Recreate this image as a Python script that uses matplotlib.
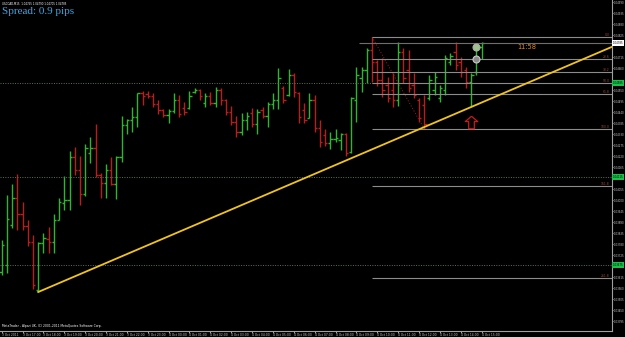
import numpy as np
import matplotlib
matplotlib.use('Agg')
import matplotlib.pyplot as plt
from matplotlib.path import Path

# USDCAD M15 bars
bar_open = [1.03640, 1.03675, 1.03875, 1.04010, 1.03930, 1.03870, 1.03790, 1.03550, 1.03785, 1.03805,
            1.03790, 1.03900, 1.03985, 1.04000, 1.04215, 1.04150, 1.04030, 1.04235, 1.04260, 1.04125,
            1.04085, 1.04150, 1.04080, 1.04215, 1.04375, 1.04400, 1.04415, 1.04535, 1.04530, 1.04520,
            1.04480, 1.04450, 1.04425, 1.04445, 1.04500, 1.04460, 1.04460, 1.04540, 1.04550, 1.04485,
            1.04520, 1.04485, 1.04550, 1.04500, 1.04440, 1.04390, 1.04340, 1.04400, 1.04435, 1.04380,
            1.04450, 1.04420, 1.04480, 1.04500, 1.04560, 1.04525, 1.04625, 1.04535, 1.04450, 1.04410,
            1.04500, 1.04360, 1.04325, 1.04285, 1.04305, 1.04300, 1.04330, 1.04240, 1.04500, 1.04610,
            1.04650, 1.04750, 1.04690, 1.04600, 1.04575, 1.04550, 1.04500, 1.04740, 1.04650, 1.04575,
            1.04500, 1.04475, 1.04510, 1.04550, 1.04510, 1.04550, 1.04690, 1.04740, 1.04690, 1.04650,
            1.04590, 1.04640, 1.04765]
bar_high = [1.03800, 1.04025, 1.04080, 1.04130, 1.03990, 1.03900, 1.03825, 1.03790, 1.03835, 1.03865,
            1.03930, 1.04010, 1.04120, 1.04245, 1.04265, 1.04220, 1.04280, 1.04315, 1.04380, 1.04135,
            1.04180, 1.04215, 1.04220, 1.04420, 1.04405, 1.04465, 1.04535, 1.04545, 1.04545, 1.04535,
            1.04500, 1.04455, 1.04455, 1.04535, 1.04525, 1.04490, 1.04545, 1.04560, 1.04555, 1.04535,
            1.04540, 1.04565, 1.04560, 1.04505, 1.04470, 1.04420, 1.04435, 1.04440, 1.04460, 1.04455,
            1.04465, 1.04490, 1.04535, 1.04660, 1.04570, 1.04655, 1.04635, 1.04540, 1.04485, 1.04535,
            1.04525, 1.04400, 1.04355, 1.04340, 1.04355, 1.04335, 1.04335, 1.04515, 1.04665, 1.04665,
            1.04760, 1.04815, 1.04700, 1.04710, 1.04615, 1.04635, 1.04790, 1.04760, 1.04750, 1.04635,
            1.04510, 1.04525, 1.04625, 1.04640, 1.04575, 1.04725, 1.04735, 1.04790, 1.04715, 1.04665,
            1.04635, 1.04785, 1.04790]
bar_low = [1.03625, 1.03635, 1.03860, 1.03850, 1.03850, 1.03770, 1.03555, 1.03540, 1.03735, 1.03735,
           1.03735, 1.03900, 1.03950, 1.03950, 1.04125, 1.03975, 1.04020, 1.04185, 1.04115, 1.04010,
           1.04010, 1.04075, 1.04005, 1.04190, 1.04330, 1.04340, 1.04365, 1.04475, 1.04510, 1.04465,
           1.04430, 1.04415, 1.04385, 1.04435, 1.04415, 1.04425, 1.04455, 1.04535, 1.04500, 1.04465,
           1.04475, 1.04465, 1.04475, 1.04425, 1.04375, 1.04315, 1.04325, 1.04350, 1.04365, 1.04330,
           1.04410, 1.04365, 1.04455, 1.04455, 1.04485, 1.04520, 1.04515, 1.04385, 1.04385, 1.04410,
           1.04340, 1.04265, 1.04270, 1.04255, 1.04290, 1.04250, 1.04220, 1.04235, 1.04390, 1.04540,
           1.04585, 1.04590, 1.04570, 1.04515, 1.04490, 1.04465, 1.04470, 1.04585, 1.04540, 1.04510,
           1.04390, 1.04355, 1.04500, 1.04525, 1.04490, 1.04525, 1.04675, 1.04650, 1.04615, 1.04560,
           1.04465, 1.04625, 1.04705]
bar_close = [1.03775, 1.03905, 1.04010, 1.03930, 1.03870, 1.03790, 1.03575, 1.03785, 1.03810, 1.03790,
             1.03900, 1.03990, 1.04000, 1.04215, 1.04150, 1.04030, 1.04260, 1.04260, 1.04125, 1.04085,
             1.04150, 1.04080, 1.04215, 1.04375, 1.04400, 1.04415, 1.04535, 1.04520, 1.04520, 1.04480,
             1.04450, 1.04425, 1.04445, 1.04500, 1.04430, 1.04440, 1.04520, 1.04550, 1.04520, 1.04520,
             1.04485, 1.04550, 1.04500, 1.04440, 1.04390, 1.04340, 1.04400, 1.04420, 1.04380, 1.04440,
             1.04420, 1.04480, 1.04500, 1.04610, 1.04500, 1.04625, 1.04540, 1.04415, 1.04400, 1.04500,
             1.04360, 1.04290, 1.04285, 1.04305, 1.04310, 1.04330, 1.04235, 1.04510, 1.04625, 1.04650,
             1.04750, 1.04690, 1.04600, 1.04550, 1.04510, 1.04500, 1.04740, 1.04610, 1.04560, 1.04525,
             1.04410, 1.04380, 1.04600, 1.04615, 1.04560, 1.04710, 1.04720, 1.04675, 1.04640, 1.04590,
             1.04625, 1.04765, 1.04785]

time_labels = ['3 Oct 2011', '3 Oct 17:00', '3 Oct 18:00', '3 Oct 19:00', '3 Oct 20:00',
               '3 Oct 21:00', '3 Oct 22:00', '3 Oct 23:00', '4 Oct 00:00', '4 Oct 01:00',
               '4 Oct 02:00', '4 Oct 03:00', '4 Oct 04:00', '4 Oct 05:00', '4 Oct 06:00',
               '4 Oct 07:00', '4 Oct 08:00', '4 Oct 09:00', '4 Oct 10:00', '4 Oct 11:00',
               '4 Oct 12:00', '4 Oct 13:00', '4 Oct 14:00', '4 Oct 15:00']

hlines = [1.04585, 1.04115, 1.03675]       # green dotted horizontal lines
fib_levels = [0.0, 23.6, 38.2, 50.0, 61.8, 100.0, 161.8, 261.8]
fib_from, fib_to = 71, 81                    # bar of high / bar of low
trend_bars = [7, 90]                         # trendline through these lows
marker_bar = 91
marker_prices = [1.04765, 1.04705]
arrow_bar, arrow_price = 90, 1.04390
timer_text = '11:58'
spread_text = 'Spread: 0.9 pips'

n = len(bar_open)
bid = bar_close[-1]
xmax = 117.0
small = 2.2

fig = plt.figure(figsize=(6.25, 3.37), dpi=100, facecolor='black')
ax = fig.add_axes([0.0, 6 / 337, 612 / 625, 331 / 337], facecolor='black')
ax.set_xlim(-0.33, xmax)
ax.set_ylim(1.03345, 1.05)

green, red = '#2fb52f', '#b81e1e'
for i in range(n):
    c = green if bar_close[i] >= bar_open[i] else red
    ax.vlines(i, bar_low[i], bar_high[i], color=c, lw=1.0)
    ax.hlines(bar_open[i], i - 0.45, i, color=c, lw=1.0)
    ax.hlines(bar_close[i], i, i + 0.45, color=c, lw=1.0)

# horizontal dotted lines
for h in hlines:
    ax.axhline(h, color='#4f7a4f', lw=0.7, ls=(0, (1, 1.5)))

# bid line
ax.hlines(bid, 68.5, xmax, color='#6e6e6e', lw=0.8)

# fibonacci
fhi = bar_high[fib_from]
flo = bar_low[fib_to]
ax.plot([fib_from, fib_to], [fhi, flo], color='#a02020', lw=0.7, ls=(0, (1, 2)))
for lv in fib_levels:
    p = fhi - lv / 100 * (fhi - flo)
    ax.hlines(p, fib_from, xmax, color='#8c8c8c', lw=0.8)
    ax.text(xmax - 0.5, p, f'{lv:.1f}', color='#9a4a3a', fontsize=small,
            ha='right', va='bottom')

# trendline (ray)
tx0, tx1 = trend_bars
ty0, ty1 = bar_low[tx0], bar_low[tx1]
slope = (ty1 - ty0) / (tx1 - tx0)
ax.plot([tx0, xmax], [ty0, ty0 + slope * (xmax - tx0)], color='#f0c419', lw=1.3)

# markers
ax.plot([marker_bar], [marker_prices[0]], 'o', ms=5, mfc='#9cc48a', mec='#b0b0b0', mew=0.8)
ax.plot([marker_bar], [marker_prices[1]], 'o', ms=5, mfc='#8a8a8a', mec='#c8c8c8', mew=0.8)
arrow = Path([(0, 1), (1, 0.15), (0.45, 0.15), (0.45, -1), (-0.45, -1),
              (-0.45, 0.15), (-1, 0.15), (0, 1)])
ax.plot([arrow_bar], [arrow_price], marker=arrow, ms=9, mfc='none', mec='#d01818', mew=0.9)

ax.text(98.8, marker_prices[0], timer_text, color='#e0862a', fontsize=4.8, va='center')

# texts
header = 'USDCAD,M15  %.5f %.5f %.5f %.5f' % (bar_open[-1], bar_high[-1], bar_low[-1], bar_close[-1])
ax.text(0.004, 0.994, header, transform=ax.transAxes, color='white', fontsize=1.9, va='top')
ax.text(0.004, 0.978, spread_text, transform=ax.transAxes, color='#3aa7e0', fontsize=8,
        family='Liberation Serif', va='top')
ax.text(0.004, 0.008, 'MetaTrader - Alpari UK, (C) 2001-2011 MetaQuotes Software Corp.',
        transform=ax.transAxes, color='white', fontsize=small, va='bottom')

# axes styling
for s in ['top', 'left']:
    ax.spines[s].set_visible(False)
for s in ['right', 'bottom']:
    ax.spines[s].set_color('#a0a0a0')
    ax.spines[s].set_linewidth(0.8)
ax.yaxis.tick_right()
# price scale; the boxed labels cover the scale labels next to them
boxed = hlines + [bid]
yt = [v for v in np.arange(1.04990, 1.0334, -0.00055)
      if min(abs(v - b) for b in boxed) > 0.00025]
ax.set_yticks(yt)
ax.set_yticklabels(['%.5f' % v for v in yt])
ax.tick_params(axis='y', colors='#c8c8c8', labelsize=1.9, length=1, width=0.6, pad=0.4)
ax.set_xticks(np.arange(0, n, 4))
ax.set_xticklabels(time_labels, ha='left')
ax.tick_params(axis='x', colors='#c8c8c8', labelsize=small, length=1.5, width=0.6, pad=0.3)

# price boxes on the axis
for h in hlines:
    ax.text(1.0015, h, '%.5f' % h, transform=ax.get_yaxis_transform(), fontsize=1.9,
            color='black', va='center', ha='left',
            bbox=dict(boxstyle='square,pad=0.2', fc='#19c34a', ec='none'))
ax.text(1.0015, bid, '%.5f' % bid, transform=ax.get_yaxis_transform(), fontsize=1.9,
        color='black', va='center', ha='left',
        bbox=dict(boxstyle='square,pad=0.2', fc='white', ec='none'))

fig.savefig('out.png', dpi=100, facecolor='black')
